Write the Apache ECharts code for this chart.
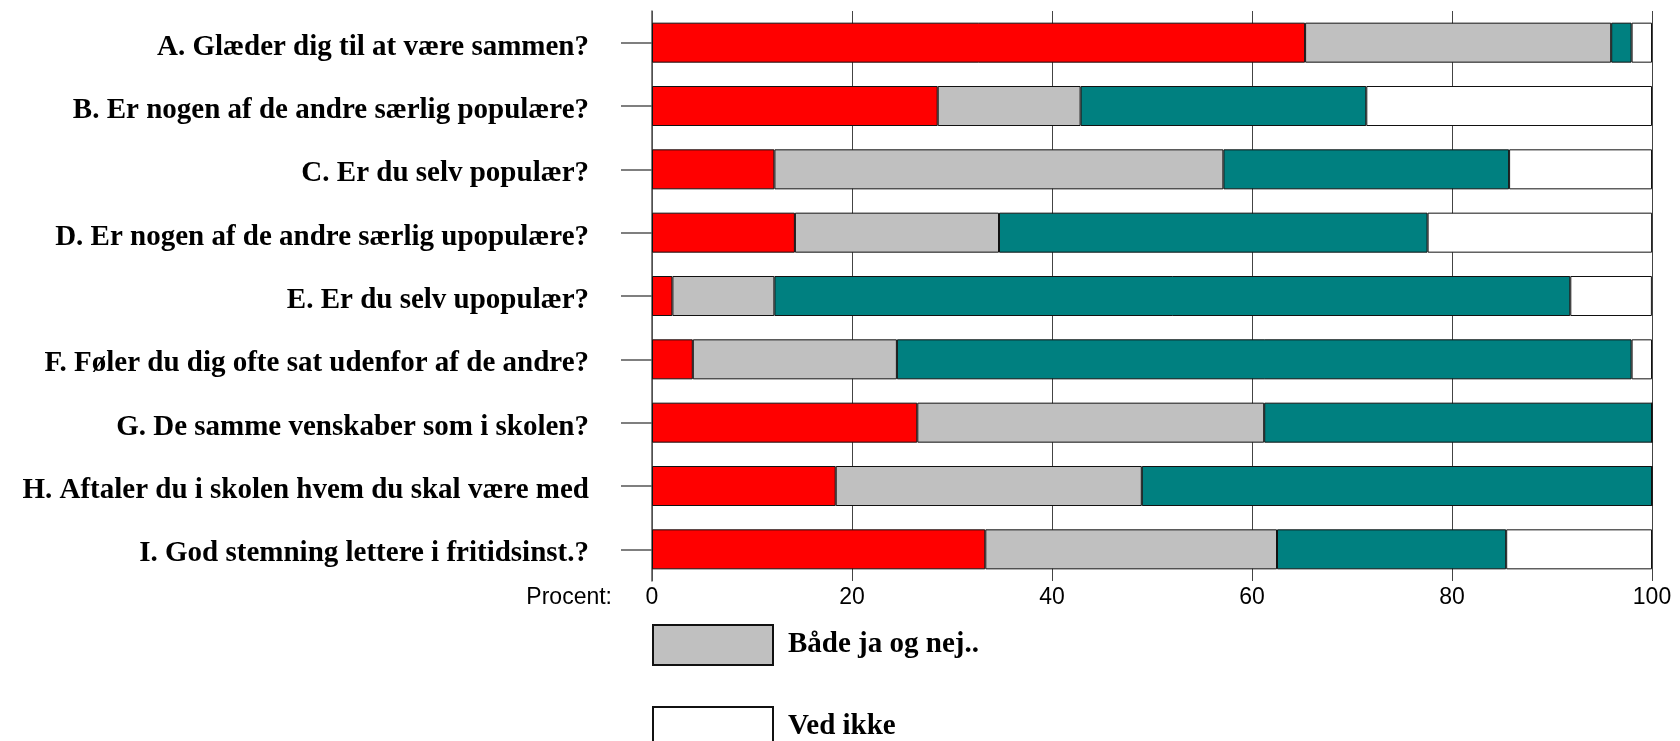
<!DOCTYPE html>
<html>
<head>
<meta charset="utf-8">
<script src="https://cdn.jsdelivr.net/npm/echarts@6/dist/echarts.min.js"></script>
<style>
html,body{margin:0;padding:0;background:#fff;}
#chart{width:1680px;height:741px;}
</style>
</head>
<body>
<div id="chart"></div>
<script>
const categories = [
  "A. Glæder dig til at være sammen?",
  "B. Er nogen af de andre særlig populære?",
  "C. Er du selv populær?",
  "D. Er nogen af de andre særlig upopulære?",
  "E. Er du selv upopulær?",
  "F. Føler du dig ofte sat udenfor af de andre?",
  "G. De samme venskaber som i skolen?",
  "H. Aftaler du i skolen hvem du skal være med",
  "I. God stemning lettere i fritidsinst.?"
];
const seriesNames = ["Ja", "Både ja og nej..", "Nej", "Ved ikke"];
const ja      = [65.31, 28.57, 12.24, 14.29, 2.04, 4.08, 26.53, 18.37, 33.33];
const bade    = [30.61, 14.29, 44.90, 20.41, 10.20, 20.41, 34.69, 30.61, 29.17];
const nej     = [2.04, 28.57, 28.57, 42.86, 79.59, 73.47, 38.78, 51.02, 22.92];
const vedIkke = [2.04, 28.57, 14.29, 22.45, 8.16, 2.04, 0, 0, 14.58];
const xTicks  = [0, 20, 40, 60, 80, 100];
const legendItems = ["Både ja og nej..", "Ved ikke"];

const colors = ["#FF0000", "#C0C0C0", "#008080", "#FFFFFF"];
const values = [ja, bade, nej, vedIkke];

const chart = echarts.init(document.getElementById('chart'), null, {renderer: 'canvas'});
const serif = "'Liberation Serif', 'Times New Roman', serif";
const sans = "'Liberation Sans', Arial, sans-serif";

chart.setOption({
  animation: false,
  backgroundColor: '#ffffff',
  grid: {left: 652, top: 11, width: 1000, height: 570, containLabel: false},
  legend: {
    data: legendItems,
    orient: 'vertical',
    left: 652,
    top: 624,
    width: 600,
    height: 300,
    itemWidth: 120,
    itemHeight: 40,
    itemGap: 40,
    icon: 'rect',
    padding: 0,
    selectedMode: false,
    textStyle: {fontFamily: serif, fontWeight: 'bold', fontSize: 29, color: '#000', padding: [0, 0, 0, 10], verticalAlign: 'top', lineHeight: 9}
  },
  xAxis: {
    type: 'value',
    min: xTicks[0],
    max: xTicks[xTicks.length - 1],
    interval: xTicks[1] - xTicks[0],
    position: 'bottom',
    name: 'Procent:',
    nameLocation: 'start',
    nameGap: 40,
    nameTextStyle: {fontFamily: sans, fontSize: 23, color: '#000', verticalAlign: 'top', padding: [5, 0, 0, 0]},
    axisLine: {show: false},
    axisTick: {show: false},
    axisLabel: {fontFamily: sans, fontSize: 23, color: '#000', margin: 5},
    splitLine: {show: true, lineStyle: {color: '#444', width: 1}}
  },
  yAxis: {
    type: 'category',
    data: categories,
    inverse: true,
    axisLine: {show: true, lineStyle: {color: '#555', width: 1.5}},
    axisTick: {show: true, alignWithLabel: true, length: 31, lineStyle: {color: '#555', width: 1.5}},
    axisLabel: {fontFamily: serif, fontWeight: 'bold', fontSize: 29, color: '#000', margin: 63, verticalAlign: 'top', lineHeight: 9},
    splitLine: {show: false}
  },
  series: seriesNames.map((name, i) => ({
    name: name,
    type: 'bar',
    stack: 'total',
    barWidth: 40,
    data: values[i],
    itemStyle: {color: colors[i], borderColor: '#111', borderWidth: 1}
  }))
});
</script>
</body>
</html>
